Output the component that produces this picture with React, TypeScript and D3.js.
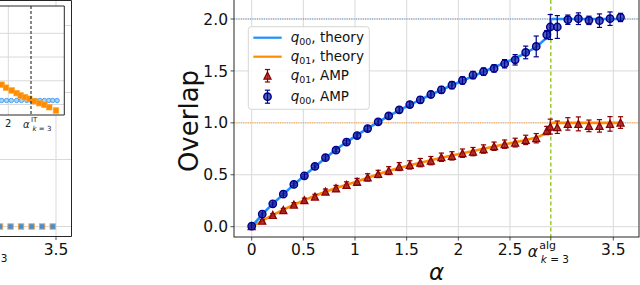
import * as d3 from "d3";

// main panel: overlap vs alpha
const ALPHA = [0, 0.102, 0.204, 0.306, 0.408, 0.51, 0.612, 0.714, 0.816, 0.918, 1.02, 1.122, 1.224, 1.326, 1.428, 1.53, 1.632, 1.734, 1.836, 1.938, 2.04, 2.142, 2.244, 2.346, 2.448, 2.55, 2.652, 2.754, 2.856, 2.89, 2.958, 3.06, 3.162, 3.264, 3.366, 3.468, 3.57];
const Q00_AMP = [0.005, 0.122, 0.22, 0.313, 0.407, 0.49, 0.58, 0.665, 0.737, 0.815, 0.877, 0.945, 1.01, 1.067, 1.125, 1.176, 1.222, 1.273, 1.318, 1.363, 1.408, 1.46, 1.493, 1.524, 1.569, 1.607, 1.678, 1.736, 1.849, 1.923, 1.923, 1.993, 2.003, 1.987, 1.984, 2.003, 2.015];
const Q00_ERR = [0.01, 0.01, 0.01, 0.01, 0.012, 0.012, 0.012, 0.015, 0.015, 0.015, 0.018, 0.02, 0.02, 0.022, 0.025, 0.025, 0.03, 0.03, 0.032, 0.035, 0.035, 0.035, 0.035, 0.035, 0.04, 0.05, 0.061, 0.1, 0.04, 0.12, 0.11, 0.045, 0.056, 0.04, 0.065, 0.065, 0.04];
const Q01_AMP = [0.005, 0.058, 0.113, 0.161, 0.213, 0.255, 0.29, 0.338, 0.37, 0.402, 0.433, 0.475, 0.508, 0.54, 0.579, 0.595, 0.617, 0.636, 0.669, 0.682, 0.708, 0.723, 0.748, 0.775, 0.795, 0.81, 0.836, 0.852, 0.926, 0.964, 0.958, 0.99, 0.99, 0.971, 0.971, 0.99, 1.003];
const Q01_ERR = [0.008, 0.01, 0.012, 0.015, 0.018, 0.02, 0.022, 0.025, 0.028, 0.03, 0.032, 0.035, 0.035, 0.038, 0.038, 0.04, 0.04, 0.04, 0.04, 0.04, 0.04, 0.04, 0.04, 0.04, 0.04, 0.042, 0.045, 0.045, 0.04, 0.072, 0.06, 0.06, 0.067, 0.056, 0.06, 0.07, 0.056];

const THEORY_ALPHA = [0, 0.102, 0.204, 0.306, 0.408, 0.51, 0.612, 0.714, 0.816, 0.918, 1.02, 1.122, 1.224, 1.326, 1.428, 1.53, 1.632, 1.734, 1.836, 1.938, 2.04, 2.142, 2.244, 2.346, 2.448, 2.55, 2.652, 2.754, 2.856, 2.895, 2.895, 3.6];
const Q00_THEORY = [0, 0.12, 0.22, 0.313, 0.405, 0.492, 0.578, 0.662, 0.742, 0.815, 0.882, 0.946, 1.008, 1.066, 1.121, 1.173, 1.223, 1.271, 1.317, 1.362, 1.406, 1.45, 1.492, 1.535, 1.578, 1.622, 1.672, 1.73, 1.82, 1.9, 2.0, 2.0];
const Q01_THEORY = [0, 0.058, 0.112, 0.163, 0.212, 0.256, 0.298, 0.337, 0.372, 0.404, 0.435, 0.472, 0.506, 0.538, 0.566, 0.592, 0.616, 0.64, 0.664, 0.686, 0.707, 0.728, 0.75, 0.772, 0.793, 0.813, 0.835, 0.858, 0.9, 0.93, 1.0, 1.0];

const X_TICKS = [0, 0.5, 1, 1.5, 2, 2.5, 3.5];
const X_TICK_LABELS = ["0", "0.5", "1", "1.5", "2", "2.5", "3.5"];
const ALPHA_ALG = 2.895;
const Y_TICKS = [0, 0.5, 1, 1.5, 2];
const Y_TICK_LABELS = ["0.0", "0.5", "1.0", "1.5", "2.0"];

// left panel (cut off at the image edge)
const LEFT_ALPHA = [2.958, 3.06, 3.162, 3.264, 3.366, 3.468];
const LEFT_VALUES = [0, 0, 0, 0, 0, 0];
const LEFT_Y_TICKS = [0, 0.1, 0.2, 0.3];
const INSET_ORANGE_ALPHA = [1.85, 1.948, 2.077, 2.19, 2.28, 2.38, 2.477, 2.59, 2.705, 2.82, 2.93, 3.084];
const INSET_ORANGE = [0.0835, 0.0708, 0.0593, 0.0479, 0.038, 0.031, 0.0242, 0.014, 0.0055, -0.0013, -0.0114, -0.0254];
const INSET_BLUE_ALPHA = [1.85, 1.96, 2.07, 2.19, 2.3, 2.42, 2.52, 2.62, 2.72, 2.82, 2.92, 3.01, 3.11];
const INSET_BLUE = [0.017, 0.017, 0.017, 0.017, 0.017, 0.017, 0.017, 0.017, 0.017, 0.017, 0.017, 0.017, 0.017];
const INSET_Y_TICKS = [0, 0.1, 0.2, 0.3];
const ALPHA_IT = 2.516;

const FONT = "DejaVu Sans";
const GRID = "#d9d9d9";
const FRAME = "#262626";
const NAVY = "#00008b";
const DARKRED = "#8b0000";

function tri(cx: number, cy: number, s: number) {
  return `M${cx},${cy - s} L${cx + s},${cy + s} L${cx - s},${cy + s} Z`;
}

function ErrMark({ cx, lo, hi, color }: { cx: number; lo: number; hi: number; color: string }) {
  return (
    <g stroke={color} strokeWidth={1.2}>
      <line x1={cx} x2={cx} y1={lo} y2={hi} />
      <line x1={cx - 2.6} x2={cx + 2.6} y1={lo} y2={lo} />
      <line x1={cx - 2.6} x2={cx + 2.6} y1={hi} y2={hi} />
    </g>
  );
}

function Circ({ cx, cy }: { cx: number; cy: number }) {
  return (
    <g>
      <circle cx={cx} cy={cy} r={3.7} fill="#2434a8" fillOpacity={0.8} stroke={NAVY} strokeWidth={1.4} />
      <line x1={cx} x2={cx} y1={cy - 3.7} y2={cy + 3.7} stroke={NAVY} strokeWidth={1} />
    </g>
  );
}

function Tri({ cx, cy }: { cx: number; cy: number }) {
  return <path d={tri(cx, cy, 3.5)} fill="#a82626" fillOpacity={0.85} stroke={DARKRED} strokeWidth={1.3} />;
}

export default function App() {
  const W = 640;
  const H = 285;
  const box = { left: 234, right: 639, top: 0, bottom: 237 };
  const x = d3.scaleLinear().domain([0, 3.5]).range([251.7, 613.3]);
  const y = d3.scaleLinear().domain([0, 2]).range([226.7, 19]);

  const line = d3
    .line<number>()
    .x((_, i) => x(THEORY_ALPHA[i]))
    .y((d) => y(d));

  // left panel scales
  const lx = d3.scaleLinear().domain([2.958, 3.5]).range([0, 56]);
  const ly = d3.scaleLinear().domain([0, 0.3]).range([226.5, 25.5]);
  const ix = d3.scaleLinear().domain([2, ALPHA_IT]).range([8.3, 31]);
  const iy = d3.scaleLinear().domain([0, 0.3]).range([104.5, 33.3]);

  const xAlg = x(ALPHA_ALG);
  const tickY = box.bottom + 17.5;

  return (
    <svg
      width={W}
      height={H}
      viewBox={`0 0 ${W} ${H}`}
      style={{ position: "absolute", left: 0, top: 0, background: "#fff" }}
      fontFamily={FONT}
    >
      {/* ---------- left panel ---------- */}
      <g>
        {LEFT_Y_TICKS.map((t) => (
          <line key={t} x1={0} x2={71.5} y1={ly(t)} y2={ly(t)} stroke={GRID} strokeWidth={1} />
        ))}
        <line x1={lx(3.5)} x2={lx(3.5)} y1={0} y2={236.5} stroke={GRID} strokeWidth={1} />
        {LEFT_ALPHA.map((a, i) => (
          <rect
            key={i}
            x={lx(a) - 2.7}
            y={ly(LEFT_VALUES[i]) - 2.7}
            width={5.4}
            height={5.4}
            fill="#3d8fe0"
            stroke="#f2a244"
            strokeWidth={0.9}
          />
        ))}
        <path d="M0,0.5 H71.5 V236.5 H0" fill="none" stroke={FRAME} strokeWidth={1} />
        <line x1={lx(3.5)} x2={lx(3.5)} y1={236.5} y2={240} stroke={FRAME} strokeWidth={0.8} />
        <text x={lx(3.5)} y={tickY} fontSize={15.5} textAnchor="middle" fill="#111">3.5</text>
        <text x={7.5} y={262} fontSize={10.5} textAnchor="end" fill="#111">3</text>

        {/* inset */}
        <rect x={-10} y={6} width={74.3} height={109} fill="#fff" />
        {INSET_Y_TICKS.map((t) => (
          <line key={t} x1={-10} x2={64.3} y1={iy(t)} y2={iy(t)} stroke={GRID} strokeWidth={1} />
        ))}
        <line x1={ix(2)} x2={ix(2)} y1={6} y2={115} stroke={GRID} strokeWidth={1} />
        {INSET_BLUE_ALPHA.map((a, i) => (
          <circle key={i} cx={ix(a)} cy={iy(INSET_BLUE[i])} r={2.2} fill="#a9d2fa" stroke="#3f9cf5" strokeWidth={0.9} />
        ))}
        {INSET_ORANGE_ALPHA.map((a, i) => (
          <rect
            key={i}
            x={ix(a) - 2.8}
            y={iy(INSET_ORANGE[i]) - 2.8}
            width={5.6}
            height={5.6}
            fill="#ff8c00"
            stroke="#ffa733"
            strokeWidth={0.6}
          />
        ))}
        <line x1={ix(ALPHA_IT)} x2={ix(ALPHA_IT)} y1={6} y2={115} stroke="#111" strokeWidth={1} strokeDasharray="3,2" />
        <path d="M-10,6 H64.3 V115 H-10" fill="none" stroke={FRAME} strokeWidth={1} />
        <text x={ix(2)} y={127} fontSize={10} textAnchor="middle" fill="#222">2</text>
        <text x={ix(ALPHA_IT) - 8} y={128} fontSize={10} fontStyle="italic" fill="#222">α</text>
        <text x={ix(ALPHA_IT)} y={121.5} fontSize={7} fill="#222">IT</text>
        <text x={ix(ALPHA_IT) + 1.5} y={131} fontSize={7} fill="#222">
          <tspan fontStyle="italic">k</tspan> = 3
        </text>
      </g>

      {/* ---------- main panel ---------- */}
      <g>
        {X_TICKS.map((t) => (
          <line key={t} x1={x(t)} x2={x(t)} y1={box.top} y2={box.bottom} stroke={GRID} strokeWidth={1} />
        ))}
        {Y_TICKS.map((t) => (
          <line key={t} x1={box.left} x2={box.right} y1={y(t)} y2={y(t)} stroke={GRID} strokeWidth={1} />
        ))}

        <line x1={box.left} x2={box.right} y1={y(2)} y2={y(2)} stroke="#4f86bd" strokeWidth={1} strokeDasharray="1,1.3" />
        <line x1={box.left} x2={box.right} y1={y(1)} y2={y(1)} stroke="#ff9a2e" strokeWidth={1} strokeDasharray="1,1.3" />
        <line x1={xAlg} x2={xAlg} y1={box.top} y2={box.bottom} stroke="#9acd32" strokeWidth={1.5} strokeDasharray="4,2.5" />

        <path d={line(Q01_THEORY) || ""} fill="none" stroke="#ff8c00" strokeWidth={2.6} />
        <path d={line(Q00_THEORY) || ""} fill="none" stroke="#1e90ff" strokeWidth={2.6} />

        {ALPHA.map((a, i) => (
          <g key={"r" + i}>
            <ErrMark cx={x(a)} lo={y(Q01_AMP[i] + Q01_ERR[i])} hi={y(Q01_AMP[i] - Q01_ERR[i])} color={DARKRED} />
            <Tri cx={x(a)} cy={y(Q01_AMP[i])} />
          </g>
        ))}
        {ALPHA.map((a, i) => (
          <g key={"b" + i}>
            <ErrMark cx={x(a)} lo={y(Q00_AMP[i] + Q00_ERR[i])} hi={y(Q00_AMP[i] - Q00_ERR[i])} color={NAVY} />
            <Circ cx={x(a)} cy={y(Q00_AMP[i])} />
          </g>
        ))}

        <rect x={box.left} y={box.top - 1} width={box.right - box.left} height={box.bottom - box.top + 1} fill="none" stroke={FRAME} strokeWidth={1} />

        {/* x ticks */}
        {X_TICKS.map((t, i) => (
          <g key={t}>
            <line x1={x(t)} x2={x(t)} y1={box.bottom} y2={box.bottom + 3.5} stroke={FRAME} strokeWidth={0.8} />
            <text x={x(t)} y={tickY} fontSize={15.5} textAnchor="middle" fill="#111">{X_TICK_LABELS[i]}</text>
          </g>
        ))}
        <line x1={xAlg} x2={xAlg} y1={box.bottom} y2={box.bottom + 3.5} stroke={FRAME} strokeWidth={0.8} />
        <text x={xAlg - 23} y={tickY + 2} fontSize={15.5} fontStyle="italic" fill="#111">α</text>
        <text x={xAlg - 11.5} y={tickY - 6} fontSize={11} fill="#111">alg</text>
        <text x={xAlg - 10} y={tickY + 8.5} fontSize={10.5} fill="#111">
          <tspan fontStyle="italic">k</tspan> = 3
        </text>

        {/* y ticks */}
        {Y_TICKS.map((t, i) => (
          <g key={t}>
            <line x1={box.left - 3.5} x2={box.left} y1={y(t)} y2={y(t)} stroke={FRAME} strokeWidth={0.8} />
            <text x={box.left - 6} y={y(t)} dy="0.36em" fontSize={15.5} textAnchor="end" fill="#111">{Y_TICK_LABELS[i]}</text>
          </g>
        ))}

        <text x={(box.left + box.right) / 2} y={280} fontSize={23} fontStyle="italic" textAnchor="middle" fill="#111">α</text>
        <text transform="translate(198,121) rotate(-90)" fontSize={26} textAnchor="middle" fill="#111">Overlap</text>

        {/* legend */}
        <g>
          <rect x={248.3} y={26.7} width={121} height={82.6} rx={3} fill="#fff" fillOpacity={0.85} stroke="#d6d6d6" strokeWidth={1} />
          <line x1={253.3} x2={281.7} y1={37.7} y2={37.7} stroke="#1e90ff" strokeWidth={2.2} />
          <line x1={253.3} x2={281.7} y1={56.7} y2={56.7} stroke="#ff8c00" strokeWidth={2.2} />
          <ErrMark cx={267.5} lo={69.5} hi={82} color={DARKRED} />
          <Tri cx={267.5} cy={75.7} />
          <ErrMark cx={267.5} lo={90.2} hi={103.2} color={NAVY} />
          <Circ cx={267.5} cy={96.7} />
          {[
            { cy: 37.7, sub: "00", label: ", theory" },
            { cy: 56.7, sub: "01", label: ", theory" },
            { cy: 75.7, sub: "01", label: ", AMP" },
            { cy: 96.7, sub: "00", label: ", AMP" }
          ].map((d) => (
            <text key={d.cy} x={290.7} y={d.cy + 4.5} fontSize={13.5} fill="#111">
              <tspan fontStyle="italic">q</tspan>
              <tspan fontSize={9.5} dy={2.5}>{d.sub}</tspan>
              <tspan dy={-2.5}>{d.label}</tspan>
            </text>
          ))}
        </g>
      </g>
    </svg>
  );
}
